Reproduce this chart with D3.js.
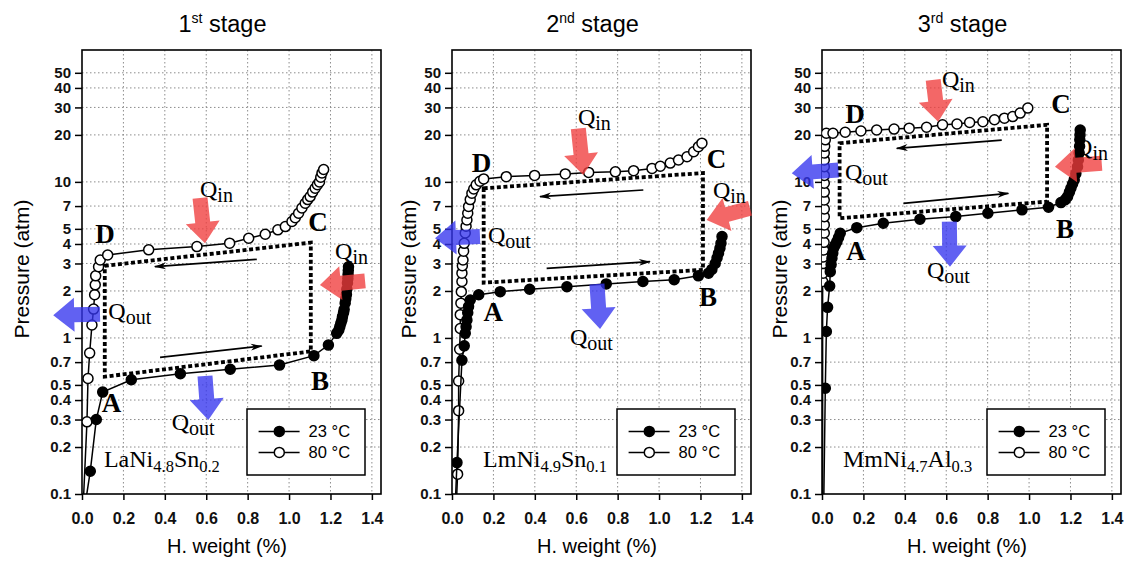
<!DOCTYPE html>
<html><head><meta charset="utf-8">
<script src="https://cdn.jsdelivr.net/npm/d3@7"></script>
<style>body{margin:0;background:#fff}svg{display:block}</style>
</head><body>
<svg id="c" width="1128" height="563"></svg>
<script>
// ---------- data ----------
const stageNum = ["1", "2", "3"];
const stageSup = ["st", "nd", "rd"];
const materialParts = [["LaNi", "4.8", "Sn", "0.2"], ["LmNi", "4.9", "Sn", "0.1"], ["MmNi", "4.7", "Al", "0.3"]];
const legendLabels = ["23 °C", "80 °C"];
const xTicks = [0, 0.2, 0.4, 0.6, 0.8, 1.0, 1.2, 1.4];
const xTickLabels = ["0.0", "0.2", "0.4", "0.6", "0.8", "1.0", "1.2", "1.4"];
const yTicks = [0.1, 0.2, 0.3, 0.4, 0.5, 0.7, 1, 2, 3, 4, 5, 7, 10, 20, 30, 40, 50];
const yTickLabels = ["0.1", "0.2", "0.3", "0.4", "0.5", "0.7", "1", "2", "3", "4", "5", "7", "10", "20", "30", "40", "50"];

// stage 1 (LaNi4.8Sn0.2)
const h23_s1 = [0.012, 0.04, 0.069, 0.10, 0.238, 0.475, 0.716, 0.954, 1.12, 1.19, 1.23, 1.24, 1.245, 1.25, 1.255, 1.258, 1.263, 1.266, 1.271, 1.274, 1.277, 1.279, 1.282, 1.284, 1.285, 1.286, 1.287];
const p23_s1 = [0.08, 0.14, 0.30, 0.45, 0.54, 0.59, 0.63, 0.67, 0.77, 0.90, 1.07, 1.12, 1.18, 1.24, 1.30, 1.37, 1.45, 1.52, 1.67, 1.78, 1.90, 2.05, 2.25, 2.40, 2.55, 2.70, 2.86];
const h80_s1 = [0.005, 0.024, 0.029, 0.037, 0.048, 0.056, 0.061, 0.064, 0.066, 0.08, 0.088, 0.124, 0.322, 0.555, 0.713, 0.805, 0.885, 0.946, 0.982, 1.014, 1.03, 1.046, 1.062, 1.078, 1.09, 1.102, 1.114, 1.126, 1.137, 1.147, 1.153, 1.159, 1.167];
const p80_s1 = [0.08, 0.29, 0.55, 0.80, 1.21, 1.53, 1.89, 2.19, 2.5, 2.86, 3.16, 3.40, 3.67, 3.85, 4.05, 4.35, 4.62, 4.93, 5.17, 5.57, 5.9, 6.3, 6.8, 7.3, 7.7, 8.05, 8.6, 9.1, 9.6, 10.0, 10.7, 11.4, 12.0];

// stage 2 (LmNi4.9Sn0.1)
const h23_s2 = [0.015, 0.024, 0.048, 0.059, 0.064, 0.068, 0.072, 0.076, 0.08, 0.088, 0.129, 0.233, 0.375, 0.555, 0.745, 0.922, 1.073, 1.19, 1.239, 1.255, 1.271, 1.28, 1.287, 1.294, 1.299, 1.304];
const p23_s2 = [0.08, 0.159, 0.72, 0.89, 1.07, 1.18, 1.30, 1.45, 1.59, 1.75, 1.89, 1.98, 2.05, 2.13, 2.22, 2.30, 2.36, 2.50, 2.60, 2.75, 3.0, 3.25, 3.49, 3.75, 4.04, 4.46];
const h80_s2 = [0.02, 0.027, 0.032, 0.032, 0.037, 0.04, 0.04, 0.043, 0.045, 0.048, 0.048, 0.05, 0.053, 0.056, 0.059, 0.064, 0.068, 0.072, 0.076, 0.08, 0.088, 0.096, 0.105, 0.117, 0.135, 0.153, 0.262, 0.399, 0.547, 0.66, 0.789, 0.877, 0.966, 1.006, 1.054, 1.094, 1.135, 1.167, 1.19, 1.207];
const p80_s2 = [0.08, 0.134, 0.342, 0.53, 0.846, 1.15, 1.41, 1.67, 1.98, 2.3, 2.6, 2.9, 3.16, 3.6, 4.04, 4.7, 5.2, 5.7, 6.3, 6.95, 7.7, 8.46, 9.0, 9.57, 10.1, 10.45, 10.8, 11.0, 11.25, 11.5, 11.6, 11.8, 12.2, 12.6, 13.2, 13.8, 14.5, 15.6, 16.8, 17.7];

// stage 3 (MmNi4.7Al0.3)
const h23_s3 = [0.008, 0.016, 0.021, 0.027, 0.037, 0.04, 0.044, 0.048, 0.052, 0.056, 0.064, 0.072, 0.08, 0.088, 0.168, 0.296, 0.473, 0.646, 0.801, 0.966, 1.094, 1.154, 1.175, 1.186, 1.195, 1.202, 1.21, 1.218, 1.226, 1.234, 1.238, 1.242, 1.244, 1.245, 1.246, 1.247];
const p23_s3 = [0.08, 0.476, 1.1, 1.57, 2.15, 2.66, 2.95, 3.24, 3.5, 3.76, 3.95, 4.14, 4.4, 4.69, 5.09, 5.43, 5.76, 5.99, 6.30, 6.62, 6.88, 7.37, 7.7, 8.05, 8.6, 9.1, 9.7, 10.3, 11.3, 12.5, 13.8, 15.3, 16.9, 18.6, 20.0, 21.5];
const h80_s3 = [0.003, 0.003, 0.005, 0.005, 0.006, 0.008, 0.01, 0.011, 0.011, 0.011, 0.011, 0.011, 0.011, 0.011, 0.011, 0.011, 0.011, 0.011, 0.013, 0.016, 0.021, 0.053, 0.112, 0.188, 0.264, 0.348, 0.421, 0.505, 0.582, 0.652, 0.713, 0.777, 0.833, 0.881, 0.921, 0.957, 0.994];
const p80_s3 = [0.08, 2.3, 2.6, 3.0, 3.3, 3.66, 4.1, 4.7, 5.3, 5.98, 6.7, 7.65, 8.6, 9.8, 11.0, 12.5, 13.8, 15.3, 16.9, 18.6, 20.5, 20.5, 20.8, 21.2, 21.5, 21.8, 22.1, 22.4, 23.2, 23.5, 24.0, 24.3, 25.0, 25.6, 26.2, 27.6, 29.7];

// idealised cycle A-B-C-D (corners: D-top-left, C-top-right, B-bottom-right, A-bottom-left)
const cycleH = [[0.11, 1.105, 1.105, 0.11], [0.153, 1.212, 1.212, 0.153], [0.085, 1.087, 1.087, 0.085]];
const cycleP = [[2.9, 4.08, 0.82, 0.565], [9.1, 11.4, 2.73, 2.26], [17.7, 23.2, 7.48, 5.85]];

// point letters
const letterNames = ["A", "B", "C", "D"];
const letterH = [[0.143, 1.149, 1.14, 0.111], [0.199, 1.236, 1.277, 0.143], [0.164, 1.173, 1.154, 0.159]];
const letterP = [[0.337, 0.464, 4.84, 4.06], [1.28, 1.6, 12.27, 11.57], [3.16, 4.37, 27.6, 23.8]];

// heat labels: top Qin, right Qin, left Qout, bottom Qout
const qSub = ["in", "in", "out", "out"];
const qH = [[0.570, 1.222, 0.127, 0.433], [0.608, 1.26, 0.174, 0.57], [0.579, 1.222, 0.111, 0.507]];
const qP = [[8.0, 3.2, 1.32, 0.257], [23.1, 7.88, 4.06, 0.9], [40.5, 14.9, 10.3, 2.42]];

// heat arrows (same order)
const heatColor = ["#f03c3c", "#f03c3c", "#3434ee", "#3434ee"];
const heatTailH = [[0.570, 1.367, 0.087, 0.594], [0.610, 1.439, 0.135, 0.700], [0.537, 1.351, 0.079, 0.615]];
const heatTailP = [[7.88, 2.32, 1.42, 0.57], [22.0, 6.77, 4.46, 2.22], [45, 13.15, 11.9, 5.56]];
const heatTipH = [[0.594, 1.149, -0.139, 0.61], [0.634, 1.23, -0.082, 0.715], [0.561, 1.125, -0.146, 0.618]];
const heatTipP = [[4.04, 2.18, 1.40, 0.298], [11.07, 5.7, 4.35, 1.14], [24.3, 12.5, 11.35, 2.86]];

// flow direction arrows (top: leftwards, bottom: rightwards)
const flowFromH = [[0.844, 0.377], [0.924, 0.457], [0.868, 0.393]];
const flowFromP = [[3.19, 0.751], [8.87, 2.79], [18.5, 7.29]];
const flowToH = [[0.352, 0.868], [0.425, 0.956], [0.361, 0.9]];
const flowToP = [[2.86, 0.888], [8.04, 3.08], [16.4, 8.45]];

const materialH = [0.106, 0.15, 0.101];
const materialP = [0.15, 0.15, 0.15];

// ---------- drawing ----------
const sans = "'Liberation Sans', Arial, Helvetica, sans-serif";
const serif = "'Liberation Serif', 'Times New Roman', serif";
const plotTop = 50, plotH = 444, plotW = 299, firstLeft = 82, step = 370;
const yTitleOffset = [-53.5, -36.5, -35.5];
const series23 = [[h23_s1, p23_s1], [h23_s2, p23_s2], [h23_s3, p23_s3]];
const series80 = [[h80_s1, p80_s1], [h80_s2, p80_s2], [h80_s3, p80_s3]];

const svg = d3.select("#c");
const defs = svg.append("defs");
defs.append("marker").attr("id", "ah").attr("viewBox", "0 0 12 8")
  .attr("refX", 11).attr("refY", 4).attr("markerWidth", 13).attr("markerHeight", 8)
  .attr("markerUnits", "userSpaceOnUse").attr("orient", "auto")
  .append("path").attr("d", "M0,0.6 L12,4 L0,7.4 L3.5,4 Z").attr("fill", "#000");

function blockArrow(x1, y1, x2, y2, w = 15, hw = 34, hl = 21) {
  const dx = x2 - x1, dy = y2 - y1, L = Math.hypot(dx, dy);
  const ux = dx / L, uy = dy / L, nx = -uy, ny = ux;
  const bx = x2 - ux * hl, by = y2 - uy * hl;
  const pts = [
    [x1 + nx * w / 2, y1 + ny * w / 2], [bx + nx * w / 2, by + ny * w / 2],
    [bx + nx * hw / 2, by + ny * hw / 2], [x2, y2],
    [bx - nx * hw / 2, by - ny * hw / 2], [bx - nx * w / 2, by - ny * w / 2],
    [x1 - nx * w / 2, y1 - ny * w / 2]];
  return d3.line()(pts) + "Z";
}

[0, 1, 2].forEach(i => {
  const left = firstLeft + step * i;
  const x = d3.scaleLinear().domain([0, 1.444]).range([left, left + plotW]);
  const y = d3.scaleLog().domain([0.1, 70]).range([plotTop + plotH, plotTop]);
  const g = svg.append("g");

  defs.append("clipPath").attr("id", "clip" + i).append("rect")
    .attr("x", left).attr("y", plotTop).attr("width", plotW).attr("height", plotH);

  // grid
  g.selectAll(".vg").data(xTicks.slice(1)).join("line")
    .attr("x1", d => x(d)).attr("x2", d => x(d)).attr("y1", plotTop).attr("y2", plotTop + plotH)
    .attr("stroke", "#8c8c8c").attr("stroke-width", 1).attr("stroke-dasharray", "1.5,2.5");
  g.selectAll(".hg").data(yTicks.slice(1)).join("line")
    .attr("y1", d => y(d)).attr("y2", d => y(d)).attr("x1", left).attr("x2", left + plotW)
    .attr("stroke", "#8c8c8c").attr("stroke-width", 1).attr("stroke-dasharray", "1.5,2.5");

  // axes
  const ya = g.append("g").attr("transform", `translate(${left},0)`)
    .call(d3.axisLeft(y).tickValues(yTicks).tickFormat((d, k) => yTickLabels[k]).tickSize(7).tickPadding(4).tickSizeOuter(0));
  ya.select(".domain").remove();
  ya.selectAll("line").attr("stroke", "#000").attr("stroke-width", 1.5);
  ya.selectAll("text").attr("font-family", sans).attr("font-size", 15).attr("font-weight", "bold").attr("fill", "#111");

  const xa = g.append("g").attr("transform", `translate(0,${plotTop + plotH})`)
    .call(d3.axisBottom(x).tickValues(xTicks).tickFormat((d, k) => xTickLabels[k]).tickSize(6).tickPadding(13).tickSizeOuter(0));
  xa.select(".domain").remove();
  xa.selectAll("line").attr("stroke", "#000").attr("stroke-width", 1.5);
  xa.selectAll("text").attr("font-family", sans).attr("font-size", 16).attr("font-weight", "bold").attr("fill", "#111");

  // frame
  g.append("rect").attr("x", left).attr("y", plotTop).attr("width", plotW).attr("height", plotH)
    .attr("fill", "none").attr("stroke", "#000").attr("stroke-width", 1.6);

  // cycle
  const cyc = cycleH[i].map((h, k) => [x(h), y(cycleP[i][k])]);
  g.append("path").attr("d", d3.line()(cyc) + "Z").attr("fill", "none").attr("stroke", "#000")
    .attr("stroke-width", 3.8).attr("stroke-dasharray", "4,2.6");

  // series
  const sg = g.append("g").attr("clip-path", `url(#clip${i})`);
  const line = d3.line();
  [[series80[i], "#fff"], [series23[i], "#000"]].forEach(([s, fill]) => {
    const pts = s[0].map((h, k) => [x(h), y(s[1][k])]);
    sg.append("path").attr("d", line(pts)).attr("fill", "none").attr("stroke", "#000").attr("stroke-width", 1.5);
    sg.selectAll(null).data(s[0].map((h, k) => [h, s[1][k]]).filter(d => d[1] >= 0.1)).join("circle")
      .attr("cx", d => x(d[0])).attr("cy", d => y(d[1])).attr("r", 5)
      .attr("fill", fill).attr("stroke", "#000").attr("stroke-width", 1.5);
  });

  // flow arrows
  [0, 1].forEach(k => {
    g.append("line")
      .attr("x1", x(flowFromH[i][k])).attr("y1", y(flowFromP[i][k]))
      .attr("x2", x(flowToH[i][k])).attr("y2", y(flowToP[i][k]))
      .attr("stroke", "#000").attr("stroke-width", 1.7).attr("marker-end", "url(#ah)");
  });

  // heat arrows
  [0, 1, 2, 3].forEach(k => {
    g.append("path")
      .attr("d", blockArrow(x(heatTailH[i][k]), y(heatTailP[i][k]), x(heatTipH[i][k]), y(heatTipP[i][k])))
      .attr("fill", heatColor[k]).attr("fill-opacity", 0.78);
  });

  // letters
  letterNames.forEach((t, k) => {
    g.append("text").attr("x", x(letterH[i][k])).attr("y", y(letterP[i][k]))
      .attr("text-anchor", "middle").attr("font-family", serif).attr("font-weight", "bold")
      .attr("font-size", 27).attr("fill", "#000").text(t);
  });

  // Q labels
  qSub.forEach((s, k) => {
    const t = g.append("text").attr("x", x(qH[i][k])).attr("y", y(qP[i][k]))
      .attr("font-family", serif).attr("font-size", 24).attr("fill", "#000");
    t.append("tspan").text("Q");
    t.append("tspan").attr("dy", 5).attr("font-size", 20).text(s);
  });

  // material label
  const mt = g.append("text").attr("x", x(materialH[i])).attr("y", y(materialP[i]))
    .attr("font-family", serif).attr("font-size", 24).attr("fill", "#000");
  materialParts[i].forEach((p, k) => {
    mt.append("tspan").attr("dy", k === 0 ? 0 : (k % 2 === 1 ? 5 : -5))
      .attr("font-size", k % 2 === 1 ? 16.5 : 24).text(p);
  });

  // legend
  const lg = g.append("g").attr("transform", `translate(${left + 165},${plotTop + 359})`);
  lg.append("rect").attr("width", 118).attr("height", 66).attr("fill", "#fff")
    .attr("stroke", "#000").attr("stroke-width", 1.5);
  legendLabels.forEach((lab, k) => {
    const yy = 22.4 + 21 * k;
    lg.append("line").attr("x1", 11.6).attr("x2", 52.6).attr("y1", yy).attr("y2", yy)
      .attr("stroke", "#000").attr("stroke-width", 1.5);
    lg.append("circle").attr("cx", 32.3).attr("cy", yy).attr("r", 5)
      .attr("fill", k === 0 ? "#000" : "#fff").attr("stroke", "#000").attr("stroke-width", 1.5);
    lg.append("text").attr("x", 61.6).attr("y", yy + 6).attr("font-family", sans)
      .attr("font-size", 16.5).attr("fill", "#000").text(lab);
  });

  // titles
  const tt = svg.append("text").attr("x", left + 140.5).attr("y", 31.7).attr("text-anchor", "middle")
    .attr("font-family", sans).attr("font-size", 23.5).attr("fill", "#000");
  tt.append("tspan").text(stageNum[i]);
  tt.append("tspan").attr("dy", -9).attr("font-size", 14).text(stageSup[i]);
  tt.append("tspan").attr("dy", 9).text(" stage");

  svg.append("text").attr("x", left + 145).attr("y", 553).attr("text-anchor", "middle")
    .attr("font-family", sans).attr("font-size", 20).attr("fill", "#000").text("H. weight (%)");

  svg.append("text").attr("transform", `translate(${left + yTitleOffset[i]},269) rotate(-90)`)
    .attr("text-anchor", "middle").attr("font-family", sans).attr("font-size", 21)
    .attr("fill", "#000").text("Pressure (atm)");
});
</script>
</body></html>
